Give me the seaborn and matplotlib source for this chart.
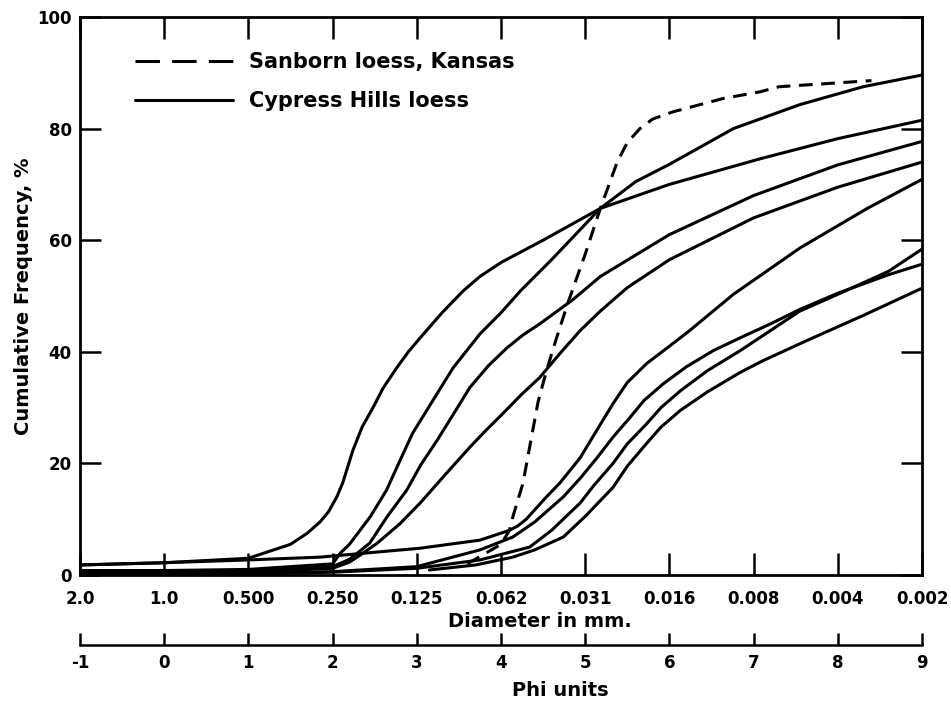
import numpy as np
import pandas as pd
import matplotlib
matplotlib.use("Agg")
import matplotlib.pyplot as plt
import seaborn as sns
from matplotlib.lines import Line2D

# ---- data (phi units vs cumulative %) ----
# Sanborn loess, Kansas (dashed)
phi_sanborn = [3.6, 4.0, 4.1, 4.14, 4.26, 4.34, 4.44, 4.54, 4.66, 4.8, 5.0, 5.18, 5.38, 5.5, 5.65, 5.8, 6.04, 6.64, 7.08, 7.3, 7.8, 8.4]
pct_sanborn = [2.0, 5.5, 8.0, 10.4, 16.4, 22.9, 31.0, 36.6, 42.5, 49.0, 57.5, 65.7, 74.0, 77.5, 80.0, 81.7, 83.0, 85.4, 86.6, 87.5, 88.0, 88.6]

# Cypress Hills loess (solid), named by their order
phi_c1 = [-1, 0, 1, 1.5, 1.7, 1.85, 1.95, 2.05, 2.12, 2.24, 2.35, 2.48, 2.6, 2.76, 2.9, 3.04, 3.3, 3.55, 3.75, 4.0, 4.5, 5.18, 6.0, 7.08, 8.0, 9.0]
pct_c1 = [1.8, 2.2, 3.0, 5.5, 7.5, 9.5, 11.3, 14.0, 16.5, 22.3, 26.5, 30.0, 33.5, 37.1, 40.0, 42.5, 47.0, 50.9, 53.5, 56.0, 60.0, 65.7, 70.0, 74.6, 78.2, 81.5]

phi_c2 = [-1, 0, 1, 2.0, 2.09, 2.2, 2.3, 2.45, 2.64, 2.8, 2.95, 3.2, 3.43, 3.75, 4.0, 4.23, 4.6, 5.18, 5.6, 6.0, 6.76, 7.55, 8.3, 9.0]
pct_c2 = [0.8, 0.8, 1.0, 2.0, 3.9, 5.5, 7.5, 10.5, 15.2, 20.5, 25.4, 31.5, 37.1, 43.2, 47.0, 50.9, 56.5, 65.7, 70.5, 73.6, 80.0, 84.3, 87.5, 89.6]

phi_c3 = [-1, 0, 1, 2.0, 2.2, 2.3, 2.44, 2.65, 2.88, 3.05, 3.24, 3.45, 3.63, 3.85, 4.07, 4.26, 4.46, 4.85, 5.18, 6.0, 7.0, 8.0, 9.0]
pct_c3 = [0.5, 0.5, 0.7, 1.5, 2.8, 4.0, 5.7, 10.5, 15.2, 19.8, 24.1, 29.2, 33.6, 37.5, 40.7, 43.0, 45.0, 49.3, 53.5, 61.0, 68.0, 73.5, 77.7]

phi_c4 = [-1, 0, 1, 2.0, 2.2, 2.35, 2.53, 2.8, 3.04, 3.35, 3.63, 3.8, 4.02, 4.24, 4.46, 4.7, 4.94, 5.18, 5.5, 6.0, 7.0, 8.0, 9.0]
pct_c4 = [0.3, 0.3, 0.5, 1.2, 2.3, 3.8, 5.7, 9.2, 12.9, 18.2, 22.9, 25.6, 28.9, 32.3, 35.4, 39.7, 43.8, 47.3, 51.5, 56.5, 64.0, 69.5, 74.0]

phi_c5 = [-1, 0, 1, 1.85, 3.04, 3.75, 4.1, 4.2, 4.3, 4.54, 4.7, 4.94, 5.1, 5.33, 5.5, 5.73, 6.0, 6.24, 6.76, 7.55, 8.35, 9.0]
pct_c5 = [1.8, 2.2, 2.7, 3.2, 4.8, 6.25, 8.0, 8.8, 10.0, 14.0, 16.5, 21.0, 25.0, 30.7, 34.5, 37.9, 41.0, 43.8, 50.3, 58.6, 65.7, 70.9]

phi_c6 = [-1, 0, 1, 2, 3, 3.75, 4.14, 4.4, 4.74, 4.95, 5.14, 5.33, 5.53, 5.7, 5.93, 6.2, 6.52, 6.84, 7.2, 7.55, 8.0, 8.6, 9.0]
pct_c6 = [0.2, 0.2, 0.3, 0.6, 1.5, 4.5, 6.8, 9.5, 14.0, 17.5, 21.0, 24.7, 28.2, 31.3, 34.3, 37.3, 40.2, 42.5, 45.0, 47.6, 50.5, 53.8, 55.7]

phi_c7 = [-1, 1, 2, 3, 3.75, 4.34, 4.6, 4.94, 5.1, 5.33, 5.5, 5.73, 5.9, 6.13, 6.45, 6.84, 7.2, 7.55, 8.0, 8.6, 9.0]
pct_c7 = [0.1, 0.2, 0.5, 1.2, 2.7, 5.0, 8.0, 12.9, 16.0, 20.0, 23.5, 27.1, 30.0, 33.0, 36.6, 40.2, 43.8, 47.3, 50.3, 54.4, 58.4]

phi_c8 = [3.15, 3.7, 4.14, 4.4, 4.74, 5.0, 5.33, 5.5, 5.73, 5.9, 6.13, 6.45, 6.84, 7.11, 7.63, 8.3, 9.0]
pct_c8 = [0.9, 1.8, 3.2, 4.5, 6.8, 10.5, 15.7, 19.5, 23.6, 26.5, 29.5, 32.8, 36.3, 38.4, 42.0, 46.5, 51.4]

phi_ticks = list(range(-1, 10))
diam_labels = ["2.0", "1.0", "0.500", "0.250", "0.125", "0.062", "0.031",
               "0.016", "0.008", "0.004", "0.002"]

sanborn = "Sanborn loess, Kansas"
cypress = "Cypress Hills loess"

frames = [pd.DataFrame({"phi": phi_sanborn, "pct": pct_sanborn,
                        "curve": "s", "sample": sanborn})]
solid = [(phi_c1, pct_c1), (phi_c2, pct_c2), (phi_c3, pct_c3), (phi_c4, pct_c4),
         (phi_c5, pct_c5), (phi_c6, pct_c6), (phi_c7, pct_c7), (phi_c8, pct_c8)]
for i, (p, v) in enumerate(solid):
    frames.append(pd.DataFrame({"phi": p, "pct": v, "curve": f"c{i+1}", "sample": cypress}))
df = pd.concat(frames, ignore_index=True)

sns.set_theme(style="ticks")
plt.rcParams['font.family'] = ['DejaVu Sans']
plt.rcParams['font.weight'] = 'bold'
plt.rcParams['axes.labelweight'] = 'bold'
plt.rcParams['text.color'] = 'black'
plt.rcParams['axes.labelcolor'] = 'black'
plt.rcParams['xtick.color'] = 'black'
plt.rcParams['ytick.color'] = 'black'
plt.rcParams['lines.solid_capstyle'] = 'round'

fig = plt.figure(figsize=(9.51, 7.02), dpi=100)
ax = fig.add_axes([80/951, 1 - 575/702, 842/951, 558/702])

sns.lineplot(data=df, x="phi", y="pct", units="curve", style="sample",
             dashes={sanborn: (4.5, 2.8), cypress: ""},
             estimator=None, sort=False, color="black", linewidth=2.2,
             legend=False, ax=ax)

ax.set_xlim(-1, 9)
ax.set_ylim(0, 100)
ax.set_xticks(phi_ticks)
ax.set_xticklabels(diam_labels)
ax.set_yticks([0, 20, 40, 60, 80, 100])
ax.tick_params(axis="x", direction="in", length=16, width=1.8, pad=11,
               labelsize=12, top=True)
ax.tick_params(axis="y", direction="in", length=15, width=1.8, pad=6,
               labelsize=12, right=True)
for s in ax.spines.values():
    s.set_linewidth(2.0)
    s.set_color("black")

ax.set_xlabel("Diameter in mm.", fontsize=14, labelpad=3)
ax.xaxis.label.set_x(0.546)
ax.set_ylabel("Cumulative Frequency, %", fontsize=14, labelpad=3)

sec = ax.secondary_xaxis(-0.125)
sec.set_xticks(phi_ticks)
sec.set_xticklabels([str(t) for t in phi_ticks])
sec.tick_params(direction="in", length=9, width=1.8, pad=7, labelsize=12)
sec.spines["bottom"].set_linewidth(1.8)
sec.spines["bottom"].set_color("black")
sec.set_xlabel("Phi units", fontsize=14, labelpad=6)
sec.xaxis.label.set_x(0.57)

handles = [Line2D([], [], color="black", lw=2.2, dashes=(8, 4)),
           Line2D([], [], color="black", lw=2.2)]
ax.legend(handles, [sanborn, cypress], loc="upper left",
          bbox_to_anchor=(0.065, 0.937), frameon=False, fontsize=15,
          handlelength=4.7, handletextpad=0.8, labelspacing=0.9,
          borderaxespad=0, borderpad=0)

fig.savefig("out.png", dpi=100, facecolor="white")
